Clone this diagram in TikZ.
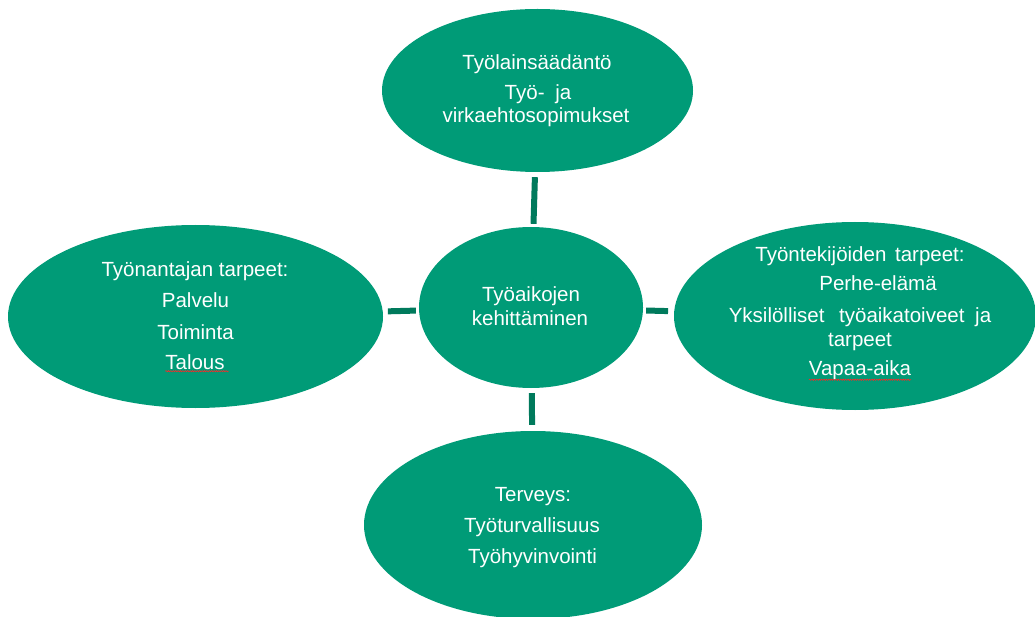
\documentclass[tikz,border=0pt]{standalone}
\usepackage{fontspec}
\setmainfont{Liberation Sans}
\usetikzlibrary{shapes.geometric,decorations.pathmorphing}
\definecolor{bubblegreen}{RGB}{0,155,119}
\definecolor{linkgreen}{RGB}{0,122,92}
\begin{document}
\begin{tikzpicture}[x=1pt,y=-1pt,
  bubble/.style={ellipse, fill=bubblegreen, draw=none, inner sep=0pt},
  txt/.style={text=white, font=\fontsize{20.5}{23.5}\selectfont, anchor=base, inner sep=0pt, outer sep=0pt},
  linkline/.style={draw=linkgreen, line width=6pt},
  spell/.style={draw=red!85!white, line width=0.6pt, decorate, decoration={snake, amplitude=0.6pt, segment length=2.4pt}}]
\useasboundingbox (0,0) rectangle (1035,617);
\clip (0,0) rectangle (1035,617);
% ellipses
\node[bubble, minimum width=311pt, minimum height=163pt] (top) at (537.5,90.5) {};
\node[bubble, minimum width=224pt, minimum height=161pt] (mid) at (531,307.5) {};
\node[bubble, minimum width=375pt, minimum height=183pt] (lft) at (195.5,316.5) {};
\node[bubble, minimum width=362pt, minimum height=188pt] (rgt) at (855,316) {};
\node[bubble, minimum width=338pt, minimum height=188pt] (btm) at (533,525) {};
% connectors
\draw[linkline, shorten <=5pt, shorten >=3pt] (top) -- (mid);
\draw[linkline, shorten <=5pt, shorten >=3pt] (lft) -- (mid);
\draw[linkline, shorten <=3pt, shorten >=6pt] (mid) -- (rgt);
\draw[linkline, shorten <=5pt, shorten >=6pt] (mid) -- (btm);
% top texts
\node[txt] (t1) at (537,70) {Työlainsäädäntö};
\node[txt] (t2) at (538,100) {Työ-\hspace{5pt} ja};
\node[txt] (t3) at (536,123) {virkaehtosopimukset};
% centre texts
\node[txt] (m1) at (531,301.7) {Työaikojen};
\node[txt] (m2) at (530,325) {kehittäminen};
% left texts
\node[txt] (l1) at (195,276.7) {Työnantajan tarpeet:};
\node[txt] (l2) at (195.5,308) {Palvelu};
\node[txt] (l3) at (195.5,339) {Toiminta};
\node[txt] (l4) at (195,369) {Talous};
% right texts
\node[txt] (r1) at (860,261.7) {Työntekijöiden\hspace{3pt} tarpeet:};
\node[txt] (r2) at (878,290.7) {Perhe-elämä};
\node[txt] (r3) at (860,322.7) {Yksilölliset\hspace{9pt} työaikatoiveet\hspace{5pt} ja};
\node[txt] (r4) at (860,346) {tarpeet};
\node[txt] (r5) at (860,375) {Vapaa-aika};
% bottom texts
\node[txt] (b1) at (533,501.7) {Terveys:};
\node[txt] (b2) at (532,532.7) {Työturvallisuus};
\node[txt] (b3) at (532.5,563) {Työhyvinvointi};
% spell-check underlines
\draw[spell] ([yshift=-2pt]l4.south west) -- ([xshift=4pt,yshift=-2pt]l4.south east);
\draw[spell] ([yshift=-0.5pt]r5.south west) -- ([yshift=-0.5pt]r5.south east);
\end{tikzpicture}
\end{document}
